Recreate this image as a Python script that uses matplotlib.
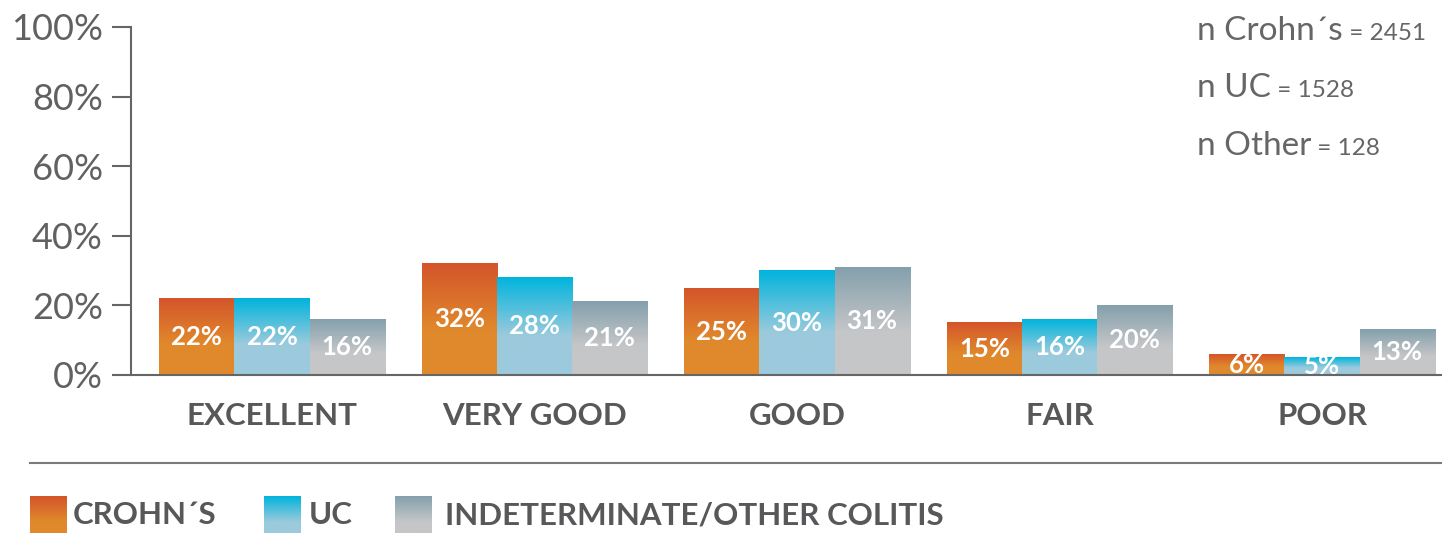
import numpy as np
import matplotlib
matplotlib.use("Agg")
import matplotlib.pyplot as plt
from matplotlib.colors import to_rgb
from matplotlib.lines import Line2D

# data
categories = ["EXCELLENT", "VERY GOOD", "GOOD", "FAIR", "POOR"]
crohns = [22, 32, 25, 15, 6]
uc = [22, 28, 30, 16, 5]
other = [16, 21, 31, 20, 13]
series_names = ["CROHN\u00b4S", "UC", "INDETERMINATE/OTHER COLITIS"]
n_lines = [("n Crohn\u00b4s", " = 2451"), ("n UC", " = 1528"), ("n Other", " = 128")]

# gradient colours, (top, bottom)
grads = [("#d4552a", "#e0892c"), ("#00b4dc", "#9ccadd"), ("#84a0ac", "#c5c6c8")]

FONT = "Lato"
DARK = "#58585a"
GREY = "#666666"
HEAVY = "bold"

W, H = 1442, 533
fig = plt.figure(figsize=(W / 100, H / 100), dpi=100)
ax = fig.add_axes([131 / W, 1 - 375 / H, 1 - 131 / W, (375 - 27) / H])


def grad_image(top, bottom, n=256, split=0.6):
    t = np.linspace(0, 1, n)
    f = np.clip(t / split, 0, 1)[:, None]
    c = np.array(to_rgb(top)) * (1 - f) + np.array(to_rgb(bottom)) * f
    return c[:, None, :]


def fill_gradient(axis, patch, top, bottom):
    x0, y0 = patch.get_x(), patch.get_y()
    w, h = patch.get_width(), patch.get_height()
    axis.imshow(grad_image(top, bottom), extent=[x0, x0 + w, y0, y0 + h],
                origin="upper", aspect="auto", interpolation="bilinear", zorder=2)
    patch.set_facecolor("none")


x = np.arange(len(categories))
width = 0.286
for k, (vals, (top, bot)) in enumerate(zip([crohns, uc, other], grads)):
    bars = ax.bar(x + (k - 1) * width, vals, width, linewidth=0, zorder=2)
    for b, v in zip(bars, vals):
        fill_gradient(ax, b, top, bot)
        ax.text(b.get_x() + b.get_width() / 2, v / 2, f"{v}%", ha="center", va="center",
                color="white", fontsize=18.5, fontweight=HEAVY, family=FONT, zorder=3)

ax.set_xlim(-0.537, 4.457)
ax.set_ylim(0, 100)
ax.set_yticks(range(0, 101, 20))
ax.set_yticklabels([f"{v}%" for v in range(0, 101, 20)])
ax.set_xticks([])
for side in ["top", "right"]:
    ax.spines[side].set_visible(False)
for side in ["left", "bottom"]:
    ax.spines[side].set_color(GREY)
    ax.spines[side].set_linewidth(1.5)
ax.tick_params(axis="y", direction="out", length=13.7, width=1.5, color=GREY,
               pad=6.5, labelsize=26, labelcolor="#616161")
for lab in ax.get_yticklabels():
    lab.set_family(FONT)

for i, c in enumerate(categories):
    ax.annotate(c, xy=(i, 0), xycoords=("data", "axes fraction"), xytext=(0, -29.5),
                textcoords="offset points", ha="center", va="center",
                fontsize=22.5, fontweight=HEAVY, family=FONT, color=DARK)

# sample sizes, big label with smaller count
fig.canvas.draw()
renderer = fig.canvas.get_renderer()
for j, (big, small) in enumerate(n_lines):
    ybase = 1 - (40 + 57.5 * j) / H
    t1 = fig.text(1197 / W, ybase, big, fontsize=24, family=FONT,
                  color=GREY, va="baseline", ha="left")
    wpx = t1.get_window_extent(renderer).width
    fig.text((1197 + wpx) / W, ybase, small, fontsize=17.5, family=FONT,
             color=GREY, va="baseline", ha="left")

# separator
fig.add_artist(Line2D([30 / W, 1], [1 - 463 / H] * 2, transform=fig.transFigure,
                      color="#7a7a7a", lw=1.5))

# legend strip
lax = fig.add_axes([0, 0, 1, 60 / H])
sq_x = [30, 264, 395]
txt_x = [73, 309, 445]
for (top, bot), sx, tx, name in zip(grads, sq_x, txt_x, series_names):
    lax.imshow(grad_image(top, bot, split=0.7), extent=[sx, sx + 37, 60, 23],
               origin="upper", aspect="auto", interpolation="bilinear")
    lax.text(tx, 42, name, ha="left", va="center", fontsize=22.5, fontweight=HEAVY,
             family=FONT, color=DARK)
lax.set_xlim(0, W)
lax.set_ylim(60, 0)
lax.axis("off")

fig.savefig("out.png", dpi=100)
